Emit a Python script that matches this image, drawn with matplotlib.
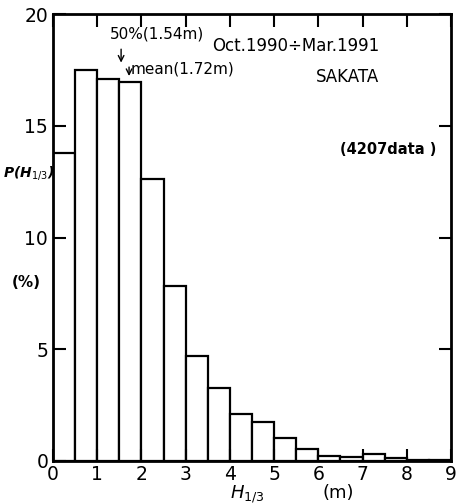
import numpy as np
import matplotlib.pyplot as plt

# H1/3 histogram, 0.5 m bins
bin_edges = np.arange(0, 9.01, 0.5)
freq = [13.8, 17.5, 17.1, 16.95, 12.6, 7.85, 4.7, 3.25, 2.1, 1.75,
        1.05, 0.52, 0.22, 0.18, 0.32, 0.12, 0.06, 0.04]
median_h = 1.54
mean_h = 1.72

plt.rcParams['font.family'] = 'DejaVu Sans'

fig = plt.figure(figsize=(4.59, 5.04), dpi=100)
ax = fig.add_axes([53/459, 43/504, 398/459, 447/504])

ax.bar(bin_edges[:-1], freq, width=0.5, align='edge',
       facecolor='white', edgecolor='black', linewidth=1.6)

ax.set_xlim(0, 9)
ax.set_ylim(0, 20)
ax.set_xticks(range(10))
ax.set_yticks([0, 5, 10, 15, 20])
ax.tick_params(direction='in', length=9, width=1.5, labelsize=13.5,
               top=True, right=True)
ax.tick_params(axis='x', pad=3)
for s in ax.spines.values():
    s.set_linewidth(2)
    s.set_zorder(5)

ax.text(-0.55, 12.9, 'P(H$_{1/3}$)', fontsize=10, style='italic',
        fontweight='bold', ha='center', va='center')
ax.text(-0.6, 8.0, '(%)', fontsize=11, fontweight='bold',
        ha='center', va='center')
ax.text(4.4, -1.5, '$H_{1/3}$', fontsize=13, ha='center', va='center',
        clip_on=False)
ax.text(6.45, -1.45, '(m)', fontsize=13, ha='center', va='center',
        clip_on=False)

# median / mean markers
ax.annotate('', xy=(median_h, 17.7), xytext=(median_h, 18.55),
            arrowprops=dict(arrowstyle='->', lw=1, color='black'))
ax.text(1.28, 19.1, '50%(1.54m)', fontsize=11, va='center')
ax.annotate('', xy=(mean_h, 17.1), xytext=(mean_h, 17.75),
            arrowprops=dict(arrowstyle='->', lw=1, color='black'))
ax.text(1.76, 17.55, 'mean(1.72m)', fontsize=11, va='center')

ax.text(3.6, 18.55, 'Oct.1990÷Mar.1991', fontsize=12, va='center')
ax.text(5.95, 17.2, 'SAKATA', fontsize=12, va='center')
ax.text(6.5, 13.95, '(4207data )', fontsize=10.5, fontweight='bold',
        va='center')

fig.savefig('out.png', dpi=100)
